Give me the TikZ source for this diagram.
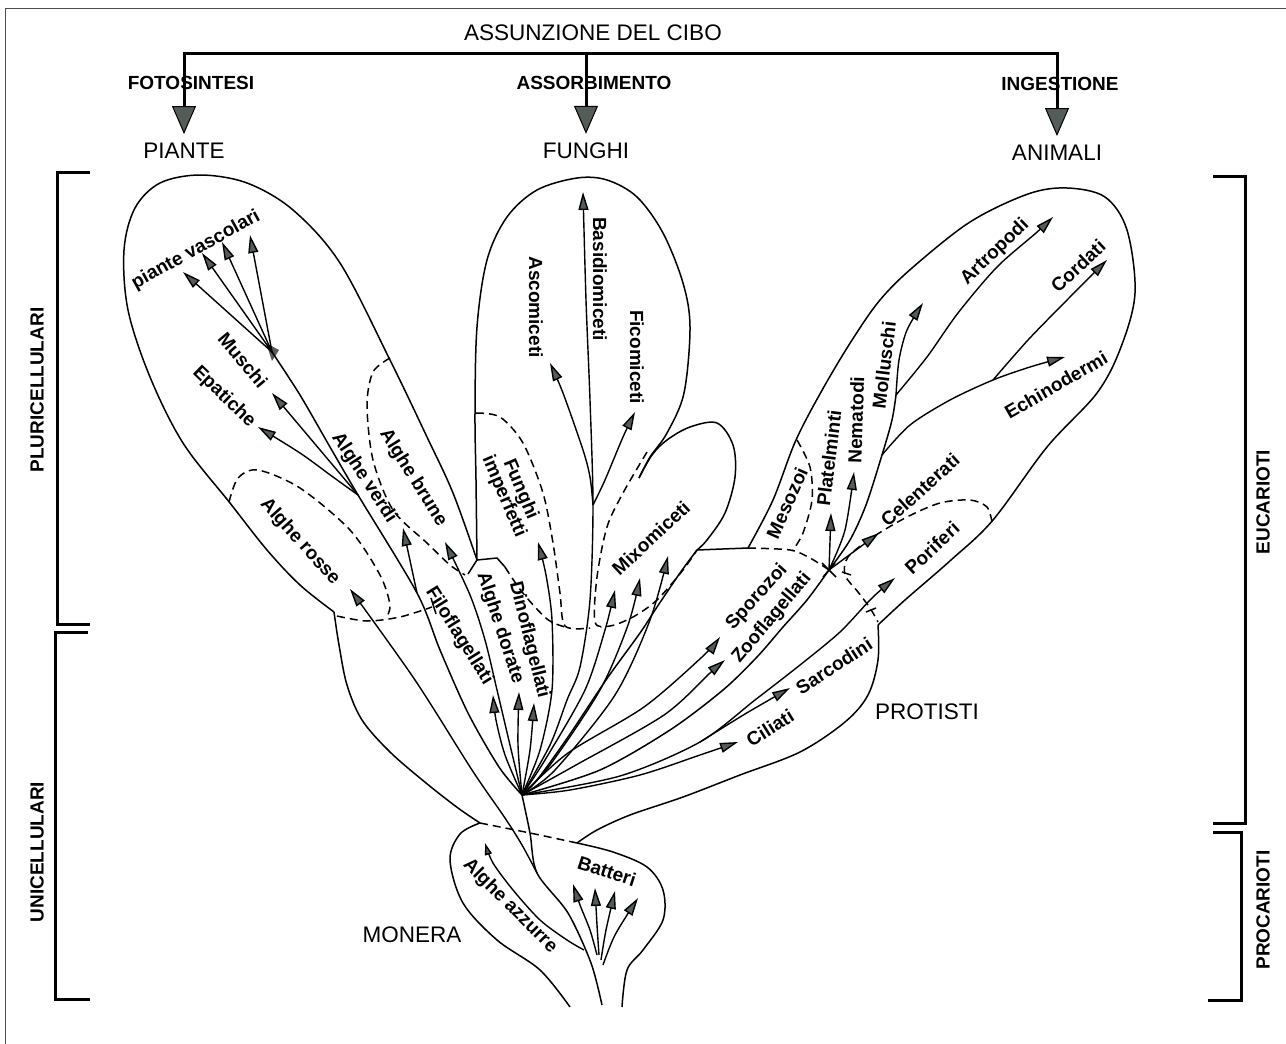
\documentclass[tikz,border=0pt]{standalone}
\usepackage{fontspec}
\setmainfont{Liberation Sans}
\usepackage{xcolor}
\usepackage{tikz}
\usetikzlibrary{arrows.meta}
\definecolor{tipgray}{RGB}{84,92,88}

\tikzset{
  outline/.style={line width=1.5pt, line join=round},
  border/.style={line width=1.5pt, dash pattern=on 8pt off 5pt},
  lineage/.style={line width=1.4pt, -{Triangle[length=18pt,width=10pt,fill=tipgray]}},
  feed/.style={line width=3pt, -{Triangle[length=28pt,width=24pt,fill=tipgray,line width=1pt]}},
  bracket/.style={line width=3pt},
  lbl/.style={font=\fontsize{19}{21}\selectfont\bfseries, inner sep=0pt},
  kingdom/.style={font=\fontsize{22.5}{24}\selectfont, inner sep=0pt},
  mode/.style={font=\fontsize{19}{21}\selectfont\bfseries, inner sep=0pt},
}

\begin{document}
\begin{tikzpicture}[x=1pt, y=-1pt]
    \useasboundingbox (0,0) rectangle (1286,1044);
    % Frame
    \draw[line width=0.8pt, black!70] (5,1044) -- (5,8) -- (1286,8);

    % Food intake
    \node[kingdom] (cibo) at (593,33) {ASSUNZIONE DEL CIBO};
    \node[kingdom] (piante) at (184,151) {PIANTE};
    \node[kingdom] (funghi) at (586,151) {FUNGHI};
    \node[kingdom] (animali) at (1057,153) {ANIMALI};
    \coordinate (bar) at (593,53);
    \draw[line width=3pt] (bar -| piante) -- (bar -| animali);
    \foreach \k in {piante,funghi,animali}
        \draw[feed] ([yshift=1.5pt]bar -| \k) -- ([yshift=9pt]\k.north);
    \node[mode] (fotosintesi) at (191,83) {FOTOSINTESI};
    \node[mode] (assorbimento) at (594,83) {ASSORBIMENTO};
    \node[mode] (ingestione) at (1060,84) {INGESTIONE};

    % Brackets
    \draw[bracket] (90,172) -- (57,172) -- (57,624) -- (90,624);
    \draw[bracket] (88,632) -- (55,632) -- (55,999) -- (90,999);
    \draw[bracket] (1213,176) -- (1245,176) -- (1245,823) -- (1213,823);
    \draw[bracket] (1213,832) -- (1241,832) -- (1241,1000) -- (1208,1000);
    \node[mode, rotate=90] (pluri) at (37,390) {PLURICELLULARI};
    \node[mode, rotate=90] (uni) at (37,852) {UNICELLULARI};
    \node[mode, rotate=90] (euc) at (1263,502) {EUCARIOTI};
    \node[mode, rotate=90] (proc) at (1263,910) {PROCARIOTI};

    % Key points
    \coordinate (root) at (522,795);
    \coordinate (knot) at (477,560);
    \coordinate (pv) at (272,352);
    \coordinate (bm) at (358,495);
    \coordinate (av) at (417,593);
    \coordinate (bf) at (593,505);
    \coordinate (j) at (829,570);
    \coordinate (sa) at (896,395);
    \coordinate (se) at (882,455);
    \coordinate (ec) at (993,380);
    \coordinate (por) at (700,742);

    % Outlines
    \draw[outline] plot[smooth, tension=0.55] coordinates {(knot) (453,493) (427,437) (390,360) (340,263) (293,210) (247,183) (200,175) (160,183) (135,208) (124,250) (128,310) (150,377) (183,443) (230,503) (267,550) (300,585) (334,612)};
    \draw[outline] plot[smooth, tension=0.55] coordinates {(334,612) (339,645) (347,685) (362,720) (390,752) (426,783) (458,808) (480,823)};
    \draw[outline] plot[smooth, tension=0.55] coordinates {(knot) (476,480) (475,413) (477,327) (487,260) (507,217) (537,190) (577,178) (607,180) (637,197) (663,233) (683,283) (690,327) (684,393) (667,433) (650,457) (639,478)};
    \draw[outline] plot[smooth, tension=0.55] coordinates {(639,478) (652,455) (667,440) (690,427) (717,423) (733,445) (735,477) (725,513) (707,540) (697,550)};
    \draw[outline] (697,550) -- (748,548);
    \draw[outline] plot[smooth, tension=0.55] coordinates {(748,548) (773,500) (796,440) (825,385) (854,337) (880,300) (912,268) (970,222) (1028,194) (1067,188) (1105,197) (1127,230) (1135,293) (1121,347) (1097,393) (1047,447) (993,520) (951,560) (905,600) (878,625)};
    \draw[outline] plot[smooth, tension=0.55] coordinates {(878,625) (878,660) (868,695) (845,722) (800,752) (740,775) (683,797) (630,815) (597,830) (577,843)};
    \draw[outline] plot[smooth, tension=0.55] coordinates {(480,823) (460,834) (450,860) (463,903) (497,940) (540,970) (570,1007)};
    \draw[outline] plot[smooth, tension=0.55] coordinates {(577,843) (613,852) (647,867) (663,890) (663,920) (643,950) (627,970) (622,1007)};
    \draw[outline] (knot) -- (497,558) -- (505,567);
    \draw[outline] (knot) -- (468,574);
    \draw[outline] plot[smooth, tension=0.55] coordinates {(697,550) (680,573) (657,607) (640,633) (606,680) (568,737) (537,780) (root)};

    % Dashed borders
    \draw[border] plot[smooth] coordinates {(480,823) (530,833) (577,843)};
    \draw[border] plot[smooth] coordinates {(390,358) (373,372) (367,405) (373,460) (393,510) (427,543) (450,565) (465,575)};
    \draw[border] plot[smooth] coordinates {(229,502) (238,478) (258,470) (300,488) (350,530) (380,575) (390,605) (386,618)};
    \draw[border] plot[smooth] coordinates {(337,616) (367,621) (400,617) (432,607)};
    \draw[border] plot[smooth] coordinates {(476,413) (500,417) (523,443) (543,493) (553,543) (560,593) (565,626) (590,628)};
    \draw[border] plot[smooth] coordinates {(505,567) (522,592) (547,619) (565,627)};
    \draw[border] plot[smooth] coordinates {(647,452) (623,493) (607,527) (597,577) (595,622) (610,626) (633,617) (657,600) (683,570) (697,550)};
    \draw[border] plot[smooth] coordinates {(748,548) (790,550) (810,558) (j)};
    \draw[border] plot[smooth] coordinates {(797,440) (810,467) (812,500) (803,533) (793,550)};
    \draw[border] plot[smooth] coordinates {(992,522) (987,507) (970,500) (940,503) (907,517) (873,537) (848,557) (845,575) (858,592) (870,608) (878,622)};
    % small ticks where the borders cross
    \draw[outline] (431,598) -- (436,614);
    \draw[outline] (822,563) -- (836,577) (823,577) -- (835,563);
    \draw[outline] (842,572) -- (851,575);
    \draw[outline] (866,612) -- (876,608);
    \fill[tipgray] (266,343) -- (279,350) -- (272,361) -- cycle;

    % Trunk and plants
    \draw[outline] plot[smooth] coordinates {(602,1005) (591,963) (568,913) (537,873) (530,833) (root)};
    \draw[outline] plot[smooth] coordinates {(root) (499,767) (468,713) (440,650) (av) (bm) (330,447) (300,395) (pv)};
    \foreach \t in {(183,272),(202,253),(222,242),(250,235)}
        \draw[lineage] (pv) -- \t;
    \draw[lineage] (bm) -- (272,393);
    \draw[lineage] plot[smooth] coordinates {(bm) (333,477) (300,453) (258,427)};
    \draw[lineage] (av) -- (403,528);
    \draw[lineage] plot[smooth] coordinates {(root) (510,745) (497,690) (485,640) (470,595) (445,542)};
    \draw[lineage] plot[smooth] coordinates {(537,873) (522,845) (505,818) (472,770) (415,680) (350,589)};
    \draw[lineage] plot[smooth] coordinates {(root) (505,755) (496,720) (493,695)};
    \draw[lineage] plot[smooth] coordinates {(root) (518,745) (519,692)};
    \draw[lineage] plot[smooth] coordinates {(root) (530,750) (534,703)};

    % Fungi
    \draw[lineage] plot[smooth] coordinates {(root) (540,750) (552,690) (552,620) (546,575) (538,542)};
    \draw[lineage] plot[smooth] coordinates {(root) (550,745) (567,700) (580,667) (590,600) (bf) (590,400) (586,300) (583,192)};
    \draw[lineage] plot[smooth] coordinates {(bf) (590,477) (583,450) (563,393) (550,363)};
    \draw[lineage] plot[smooth] coordinates {(bf) (605,480) (623,437) (635,412)};
    \draw[lineage] plot[smooth] coordinates {(root) (545,760) (585,690) (605,630) (615,590)};
    \draw[lineage] plot[smooth] coordinates {(root) (550,765) (600,690) (628,625) (640,578)};
    \draw[lineage] plot[smooth] coordinates {(root) (555,770) (615,695) (650,620) (668,556)};

    % Protists
    \draw[lineage] plot[smooth] coordinates {(root) (568,753) (644,707) (702,657) (720,637)};
    \draw[lineage] plot[smooth] coordinates {(root) (576,765) (664,715) (710,673) (725,660)};
    \draw[outline] plot[smooth] coordinates {(root) (600,770) (670,730) (723,690) (757,657) (783,627) (807,600) (j)};
    \draw[lineage] plot[smooth] coordinates {(root) (620,776) (por) (755,700) (800,665) (840,632) (872,598) (895,578)};
    \draw[lineage] plot[smooth] coordinates {(por) (745,714) (790,688)};
    \draw[lineage] plot[smooth] coordinates {(root) (570,790) (640,775) (700,755) (738,742)};

    % Animals
    \draw[lineage] (j) -- (831,513);
    \draw[lineage] plot[smooth] coordinates {(j) (845,530) (854,472)};
    \draw[lineage] (j) -- (879,533);
    \draw[outline] plot[smooth] coordinates {(j) (850,540) (866,505) (se) (892,420) (sa)};
    \draw[lineage] plot[smooth] coordinates {(sa) (899,360) (907,330) (923,303)};
    \draw[lineage] plot[smooth] coordinates {(sa) (927,357) (958,313) (997,267) (1036,233) (1053,217)};
    \draw[lineage] plot[smooth] coordinates {(se) (910,425) (950,400) (ec) (1030,367) (1065,357)};
    \draw[lineage] plot[smooth] coordinates {(ec) (1028,340) (1067,300) (1107,260)};

    % Monera
    \draw[lineage, -{Triangle[length=12pt,width=7pt,fill=tipgray]}] plot[smooth] coordinates {(584,950) (567,940) (540,920) (513,890) (493,863) (485,843)};
    \draw[lineage] plot[smooth] coordinates {(597,955) (590,930) (580,905) (573,884)};
    \draw[lineage] plot[smooth] coordinates {(599,955) (597,925) (595,888)};
    \draw[lineage] plot[smooth] coordinates {(601,960) (606,930) (615,891)};
    \draw[lineage] plot[smooth] coordinates {(603,965) (615,935) (638,898)};

    % Labels
    \node[lbl, rotate=29] (vascolari) at (196,250) {piante vascolari};
    \node[lbl, rotate=-50] (muschi) at (243,360) {Muschi};
    \node[lbl, rotate=-44] (epatiche) at (224,397) {Epatiche};
    \node[lbl, rotate=-57] (verdi) at (364,478) {Alghe verdi};
    \node[lbl, rotate=-58] (brune) at (413,478) {Alghe brune};
    \node[lbl, rotate=-48] (rosse) at (300,542) {Alghe rosse};
    \node[lbl, rotate=-67, align=center] (imperfetti) at (512,493) {Funghi\\[-3pt]imperfetti};
    \node[lbl, rotate=-58] (filo) at (459,636) {Filoflagellati};
    \node[lbl, rotate=-72] (dorate) at (500,628) {Alghe dorate};
    \node[lbl, rotate=-76] (dino) at (529,640) {Dinoflagellati};
    \node[lbl, rotate=-90] (asco) at (536,307) {Ascomiceti};
    \node[lbl, rotate=-90] (basidio) at (600,279) {Basidiomiceti};
    \node[lbl, rotate=-90] (fico) at (637,357) {Ficomiceti};
    \node[lbl, rotate=43] (mixo) at (651,538) {Mixomiceti};
    \node[lbl, rotate=66] (meso) at (787,503) {Mesozoi};
    \node[lbl, rotate=83] (plate) at (829,458) {Platelminti};
    \node[lbl, rotate=88] (nema) at (856,420) {Nematodi};
    \node[lbl, rotate=83] (mollu) at (884,365) {Molluschi};
    \node[lbl, rotate=44] (artro) at (995,252) {Artropodi};
    \node[lbl, rotate=43] (cordati) at (1078,266) {Cordati};
    \node[lbl, rotate=30] (echino) at (1056,385) {Echinodermi};
    \node[lbl, rotate=42] (celen) at (920,490) {Celenterati};
    \node[lbl, rotate=43] (pori) at (932,548) {Poriferi};
    \node[lbl, rotate=48] (sporo) at (757,597) {Sporozoi};
    \node[lbl, rotate=50] (zoo) at (772,618) {Zooflagellati};
    \node[lbl, rotate=33] (sarco) at (834,666) {Sarcodini};
    \node[lbl, rotate=32] (cilia) at (770,728) {Ciliati};
    \node[lbl, rotate=-18] (batteri) at (607,871) {Batteri};
    \node[lbl, rotate=-45] (azzurre) at (510,906) {Alghe azzurre};
    \node[kingdom] (protisti) at (927,712) {PROTISTI};
    \node[kingdom] (monera) at (412,935) {MONERA};
\end{tikzpicture}
\end{document}
